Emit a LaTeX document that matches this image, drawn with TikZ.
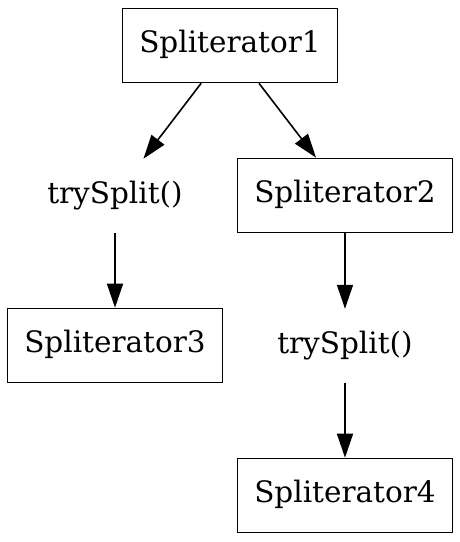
\documentclass[tikz,border=0pt]{standalone}
\usepackage{fontspec}
\setmainfont{DejaVu Serif}
\usetikzlibrary{arrows.meta}
\begin{document}
\begin{tikzpicture}[x=1pt,y=1pt,
  every node/.style={font=\fontsize{29.5}{36}\selectfont, inner sep=0pt,
    minimum width=215pt, minimum height=74pt, text height=22pt, text depth=7pt},
  box/.style={draw, line width=1.6pt},
  lbl/.style={},
  edge/.style={line width=1.6pt, -{Triangle[length=24pt,width=16pt]}}]
\useasboundingbox (0,0) rectangle (460,542);
\node[box] (s1) at (230,496.5) {Spliterator1};
\node[lbl] (t1) at (115,346) {trySplit()};
\node[box] (s2) at (345,346.5) {Spliterator2};
\node[box] (s3) at (115,196.5) {Spliterator3};
\node[lbl] (t2) at (345,196) {trySplit()};
\node[box] (s4) at (345,46.5) {Spliterator4};
\draw[edge] (s1) -- (t1);
\draw[edge] (s1) -- (s2);
\draw[edge] (t1) -- (s3);
\draw[edge] (s2) -- (t2);
\draw[edge] (t2) -- (s4);
\end{tikzpicture}
\end{document}
